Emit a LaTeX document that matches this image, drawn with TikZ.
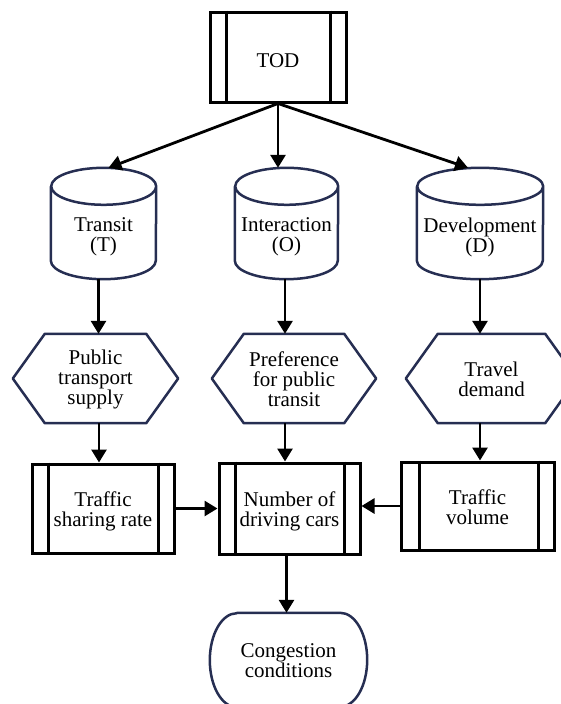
\documentclass[tikz,border=0pt]{standalone}
\usepackage{fontspec}
\setmainfont{Liberation Serif}
\usetikzlibrary{arrows.meta,calc}
\definecolor{navy}{RGB}{38,46,82}

% drum (cylinder) outline around a named box: #1 name, #2 half width, #3 ellipse radius
\newcommand\drumoutline[3]{%
  \draw[navyline] ([yshift=-#3]#1.north west) -- ([yshift=#3]#1.south west)
    arc[start angle=180, end angle=360, x radius=#2, y radius=#3]
    -- ([yshift=-#3]#1.north east)
    arc[start angle=0, end angle=360, x radius=#2, y radius=#3];}
% hexagon outline around a named box
\newcommand\hexoutline[1]{%
  \draw[navyline] ([xshift=32pt]#1.north west) -- ([xshift=-32pt]#1.north east)
    -- (#1.east) -- ([xshift=-32pt]#1.south east) -- ([xshift=32pt]#1.south west)
    -- (#1.west) -- cycle;}
% terminal outline with elliptic ends around a named box
\newcommand\termoutline[1]{%
  \draw[navyline] ([xshift=27pt]#1.north west) -- ([xshift=-27pt]#1.north east)
    arc[start angle=90, end angle=-90, x radius=27pt, y radius=47pt]
    -- ([xshift=27pt]#1.south west)
    arc[start angle=270, end angle=90, x radius=27pt, y radius=47pt] -- cycle;}
% inner side bars of a process box
\newcommand\sidebars[3]{%
  \draw[barline] ([xshift=#2]#1.north west) -- ([xshift=#2]#1.south west);
  \draw[barline] ([xshift=-#3]#1.north east) -- ([xshift=-#3]#1.south east);}

\tikzset{
  txt/.style={align=center, font=\fontsize{21}{20}\selectfont, inner sep=0pt},
  frame/.style={inner sep=0pt, minimum width=#1},
  procbox/.style={inner sep=0pt, draw=black, line width=3pt},
  barline/.style={draw=black, line width=3pt},
  navyline/.style={draw=navy, line width=2.5pt, line join=round},
  arr/.style={line width=2.8pt, -{Triangle[length=13pt,width=15pt]}},
}

\begin{document}
\begin{tikzpicture}[x=1pt,y=-1pt]
\clip (0,0) rectangle (561,704);
\useasboundingbox (0,0) rectangle (561,704);

% top process
\node[procbox, minimum width=136pt, minimum height=90pt] (tod) at (278,57) {};
\sidebars{tod}{18pt}{17pt}
\node[txt] (todt) at (278,61) {TOD};

% three drums
\node[frame=105pt, minimum height=111pt] (tr) at (103.5,223.5) {};
\drumoutline{tr}{52.5pt}{18.5pt}
\node[txt] (trt) at (103.5,237) {Transit\\(T)};

\node[frame=103pt, minimum height=111pt] (in) at (286.5,223.5) {};
\drumoutline{in}{51.5pt}{18.5pt}
\node[txt] (int) at (286.5,237) {Interaction\\(O)};

\node[frame=126pt, minimum height=111pt] (dv) at (480,223.5) {};
\drumoutline{dv}{63pt}{18.5pt}
\node[txt] (dvt) at (480,237) {Development\\(D)};

% hexagons
\node[frame=165pt, minimum height=89pt] (ps) at (95.5,378.5) {};
\hexoutline{ps}
\node[txt] (pst) at (95.5,379.5) {Public\\transport\\supply};
\node[frame=164pt, minimum height=89pt] (pf) at (294,378.5) {};
\hexoutline{pf}
\node[txt] (pft) at (294,379.5) {Preference\\for public\\transit};
\node[frame=171pt, minimum height=89pt] (td) at (491.5,378.5) {};
\hexoutline{td}
\node[txt] (tdt) at (491.5,379) {Travel\\demand};

% process boxes
\node[procbox, minimum width=142pt, minimum height=89pt] (tsr) at (103,508.5) {};
\sidebars{tsr}{18pt}{17pt}
\node[txt] (tsrt) at (103,511) {Traffic\\sharing rate};
\node[procbox, minimum width=141pt, minimum height=91pt] (ndc) at (289.5,508.5) {};
\sidebars{ndc}{18pt}{17pt}
\node[txt] (ndct) at (289.5,511) {Number of\\driving cars};
\node[procbox, minimum width=153pt, minimum height=88pt] (tv) at (477.5,506) {};
\sidebars{tv}{20pt}{17pt}
\node[txt] (tvt) at (477.5,507.5) {Traffic\\volume};

% terminal
\node[frame=157pt, minimum height=94pt] (cc) at (288.5,660) {};
\termoutline{cc}
\node[txt] (cct) at (288.5,661) {Congestion\\conditions};

% connectors
\draw[arr] (tod.south) -- ([xshift=5pt]tr.north);
\draw[arr] (tod.south) -- (tod.south |- in.north);
\draw[arr] (tod.south) -- ([xshift=-12pt]dv.north);

\draw[arr] ([xshift=-5pt]tr.south) -- ([xshift=-5pt]tr.south |- ps.north);
\draw[arr] ([xshift=-1.5pt]in.south) -- ([xshift=-1.5pt]in.south |- pf.north);
\draw[arr] (dv.south) -- (dv.south |- td.north);

\draw[arr] ([xshift=3.5pt]ps.south) -- ([xshift=3.5pt]ps.south |- tsr.north);
\draw[arr] ([xshift=-9pt]pf.south) -- ([xshift=-9pt]pf.south |- ndc.north);
\draw[arr] ([xshift=-11.5pt]td.south) -- ([xshift=-11.5pt]td.south |- tv.north);

\draw[arr] (tsr.east) -- (tsr.east -| ndc.west);
\draw[arr] (tv.west) -- (tv.west -| ndc.east);

\draw[arr] ([xshift=-3pt]ndc.south) -- ([xshift=-3pt]ndc.south |- cc.north);
\end{tikzpicture}
\end{document}
